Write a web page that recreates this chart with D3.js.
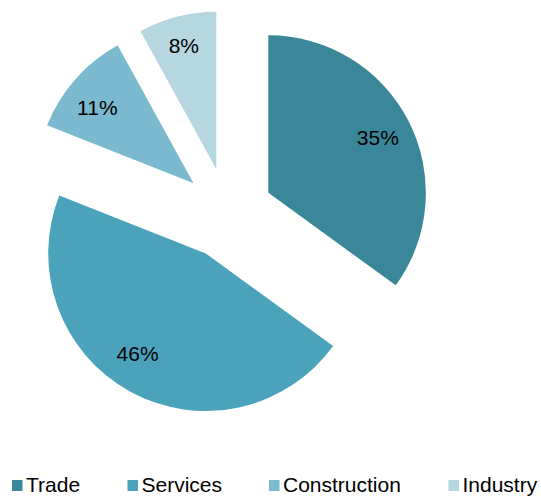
<!DOCTYPE html>
<html>
<head>
<meta charset="utf-8">
<script src="https://cdn.jsdelivr.net/npm/d3@7"></script>
<style>
  body { margin: 0; background: #fff; }
  text { font-family: 'Liberation Sans', Arial, sans-serif; }
</style>
</head>
<body>
<div id="container"></div>
<script>
/* DATA */
var categories = ['Trade', 'Services', 'Construction', 'Industry']
var shares = [35, 46, 11, 8]
var colors = ['#3a8799', '#4aa3ba', '#7bbace', '#b6d6e1']

/* LAYOUT */
var width = 541, height = 496
var cx = 227.7, cy = 213.5   // pie centre before exploding
var radius = 157.5
var explode = 45.6           // distance each slice is pulled out
var labelDist = 0.78         // label position as fraction of radius
var labelNudge = [[0, 1], [-9, -7], [-4, 6], [-2, -5]]  // small per-label shifts, like the original's best-fit placement
var fontSize = '21px'
var legendX = [12, 127.5, 269, 448.5]
var legendY = 492            // text baseline

var svg = d3.select('#container')
  .append('svg')
  .attr('width', width)
  .attr('height', height)

var pie = d3.pie().sort(null).value(function(d) { return d })
var arcs = pie(shares)
var arc = d3.arc().innerRadius(0).outerRadius(radius)

function offset(d, dist) {
  var a = (d.startAngle + d.endAngle) / 2
  return [Math.sin(a) * dist, -Math.cos(a) * dist]
}

var g = svg.append('g').attr('transform', 'translate(' + cx + ',' + cy + ')')

var slice = g.selectAll('g.slice')
  .data(arcs)
  .enter()
  .append('g')
  .attr('class', 'slice')
  .attr('transform', function(d) { return 'translate(' + offset(d, explode) + ')' })

slice.append('path')
  .attr('d', arc)
  .style('fill', function(d, i) { return colors[i] })

slice.append('text')
  .attr('transform', function(d, i) {
    var p = offset(d, radius * labelDist)
    return 'translate(' + [p[0] + labelNudge[i][0], p[1] + labelNudge[i][1]] + ')'
  })
  .attr('text-anchor', 'middle')
  .attr('dy', '0.35em')
  .style('font-size', fontSize)
  .style('fill', '#000')
  .text(function(d) { return d.data + '%' })

/* LEGEND */
var legend = svg.selectAll('g.legend')
  .data(categories)
  .enter()
  .append('g')
  .attr('class', 'legend')
  .attr('transform', function(d, i) { return 'translate(' + legendX[i] + ',' + legendY + ')' })

legend.append('rect')
  .attr('x', 0).attr('y', -12)
  .attr('width', 10.5).attr('height', 11)
  .style('fill', function(d, i) { return colors[i] })

legend.append('text')
  .attr('x', 14)
  .style('font-size', fontSize)
  .style('fill', '#000')
  .text(function(d) { return d })
</script>
</body>
</html>
